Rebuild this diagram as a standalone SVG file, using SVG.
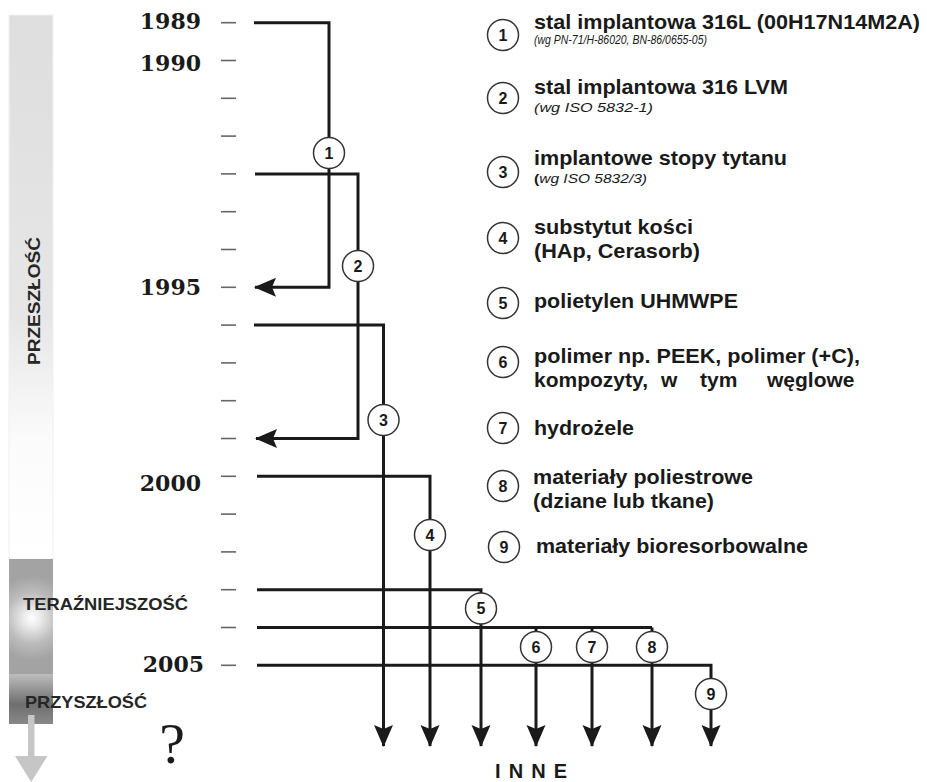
<svg xmlns="http://www.w3.org/2000/svg" width="927" height="782" viewBox="0 0 927 782">
<style>
.yr{font-family:"DejaVu Serif","Liberation Serif",serif;font-weight:bold;font-size:22px;fill:#1a1a1a;text-anchor:end}
.tick{stroke:#666;stroke-width:1.6}
.ln{fill:none;stroke:#1a1a1a;stroke-width:3}
.arr{marker-end:url(#ah)}
.c{fill:#fff;stroke:#333;stroke-width:1.5}
.n{font-family:"Liberation Sans",Arial,sans-serif;font-weight:bold;font-size:16px;fill:#1a1a1a;text-anchor:middle}
.lg{font-family:"Liberation Sans",Arial,sans-serif;font-weight:bold;font-size:21px;fill:#1a1a1a}
.sub{font-family:"Liberation Sans",Arial,sans-serif;font-style:italic;font-size:12.5px;fill:#1a1a1a}
.bar{font-family:"Liberation Sans",Arial,sans-serif;font-weight:bold;font-size:17px;fill:#262626}
</style>
<defs>
<marker id="ah" viewBox="0 0 22 20" refX="21" refY="10" markerWidth="22" markerHeight="20" markerUnits="userSpaceOnUse" orient="auto">
<path d="M0,0.5 L22,10 L0,19.5 L4,10 z" fill="#1a1a1a"/>
</marker>
<linearGradient id="gPast" x1="0" y1="0" x2="0" y2="1">
<stop offset="0" stop-color="#dedede"/>
<stop offset="0.55" stop-color="#e6e6e6"/>
<stop offset="0.78" stop-color="#fbfbfb"/>
<stop offset="1" stop-color="#ffffff"/>
</linearGradient>
<radialGradient id="gNow" gradientUnits="userSpaceOnUse" cx="32" cy="618" r="42">
<stop offset="0" stop-color="#ffffff"/>
<stop offset="0.2" stop-color="#ececec"/>
<stop offset="0.6" stop-color="#bcbcbc"/>
<stop offset="1" stop-color="#a3a3a3"/>
</radialGradient>
<linearGradient id="gFut" x1="0" y1="0" x2="0" y2="1">
<stop offset="0" stop-color="#bdbdbd"/>
<stop offset="0.6" stop-color="#6f6f6f"/>
<stop offset="1" stop-color="#888888"/>
</linearGradient>
</defs>
<rect width="927" height="782" fill="#fff"/>

<g id="timebar">
<rect x="9" y="15" width="44" height="544" fill="url(#gPast)" stroke="#f0f0f0" stroke-width="1"/>
<rect x="9" y="559" width="44" height="115" fill="url(#gNow)"/>
<rect x="9" y="674" width="44" height="50" fill="url(#gFut)"/>
<rect x="28" y="715" width="6.5" height="42" fill="#c6c6c6"/>
<polygon points="15,756 47.5,756 31.2,782" fill="#c6c6c6"/>
<text class="bar" transform="translate(39.5,365) rotate(-90)" textLength="128" lengthAdjust="spacingAndGlyphs">PRZESZŁOŚĆ</text>
<text class="bar" x="23" y="610" textLength="165" lengthAdjust="spacingAndGlyphs">TERAŹNIEJSZOŚĆ</text>
<text class="bar" x="25" y="708" textLength="122" lengthAdjust="spacingAndGlyphs">PRZYSZŁOŚĆ</text>
<text x="172" y="763" font-family="Liberation Serif,serif" font-size="58" fill="#1a1a1a" text-anchor="middle">?</text>
</g>

<g id="years">
<text class="yr" x="201" y="28.5">1989</text>
<text class="yr" x="201" y="71">1990</text>
<text class="yr" x="201" y="295">1995</text>
<text class="yr" x="201" y="491">2000</text>
<text class="yr" x="204" y="672">2005</text>
<g class="tick">
<line x1="221" y1="22.7" x2="236" y2="22.7"/>
<line x1="221" y1="60.5" x2="236" y2="60.5"/>
<line x1="221" y1="98.3" x2="236" y2="98.3"/>
<line x1="221" y1="136.1" x2="236" y2="136.1"/>
<line x1="221" y1="173.9" x2="236" y2="173.9"/>
<line x1="221" y1="211.7" x2="236" y2="211.7"/>
<line x1="221" y1="249.5" x2="236" y2="249.5"/>
<line x1="221" y1="287.3" x2="236" y2="287.3"/>
<line x1="221" y1="325.1" x2="236" y2="325.1"/>
<line x1="221" y1="362.9" x2="236" y2="362.9"/>
<line x1="221" y1="400.7" x2="236" y2="400.7"/>
<line x1="221" y1="438.5" x2="236" y2="438.5"/>
<line x1="221" y1="476.3" x2="236" y2="476.3"/>
<line x1="221" y1="514.1" x2="236" y2="514.1"/>
<line x1="221" y1="551.9" x2="236" y2="551.9"/>
<line x1="221" y1="589.7" x2="236" y2="589.7"/>
<line x1="221" y1="627.5" x2="236" y2="627.5"/>
<line x1="221" y1="665.3" x2="236" y2="665.3"/>
</g>
</g>

<g id="connectors">
<path class="ln arr" d="M254,22.7 H329 V287.3 H255"/>
<path class="ln arr" d="M255,173.9 H358 V438.5 H256"/>
<path class="ln arr" d="M254,325.1 H383.5 V746"/>
<path class="ln arr" d="M257,476.3 H430 V746"/>
<path class="ln arr" d="M257,589.7 H481 V746"/>
<path class="ln" d="M257,627.5 H652"/>
<path class="ln arr" d="M536,627.5 V746"/>
<path class="ln arr" d="M592,627.5 V746"/>
<path class="ln arr" d="M652,627.5 V746"/>
<path class="ln arr" d="M257,665.3 H711 V746"/>
</g>

<g id="m1"><circle class="c" cx="329" cy="153" r="15.5"/><text class="n" x="329" y="158.7">1</text></g>
<g id="m2"><circle class="c" cx="358" cy="266" r="15.5"/><text class="n" x="358" y="271.7">2</text></g>
<g id="m3"><circle class="c" cx="383.5" cy="420" r="15.5"/><text class="n" x="383.5" y="425.7">3</text></g>
<g id="m4"><circle class="c" cx="430" cy="535" r="15.5"/><text class="n" x="430" y="540.7">4</text></g>
<g id="m5"><circle class="c" cx="481" cy="608.5" r="15.5"/><text class="n" x="481" y="614.2">5</text></g>
<g id="m6"><circle class="c" cx="536" cy="647" r="15.5"/><text class="n" x="536" y="652.7">6</text></g>
<g id="m7"><circle class="c" cx="592" cy="647" r="15.5"/><text class="n" x="592" y="652.7">7</text></g>
<g id="m8"><circle class="c" cx="652" cy="647" r="15.5"/><text class="n" x="652" y="652.7">8</text></g>
<g id="m9"><circle class="c" cx="711" cy="694" r="15.5"/><text class="n" x="711" y="699.7">9</text></g>

<g id="inne"><text x="531" y="778" font-family="Liberation Sans,Arial,sans-serif" font-weight="bold" font-size="20" fill="#1a1a1a" text-anchor="middle" textLength="72" lengthAdjust="spacing">INNE</text></g>

<g id="legend1"><circle class="c" cx="503" cy="35" r="15.5"/><text class="n" x="503" y="40.7">1</text>
<text class="lg" x="534" y="28.5" textLength="386" lengthAdjust="spacingAndGlyphs">stal implantowa 316L (00H17N14M2A)</text>
<text class="sub" x="534" y="44" font-size="12" textLength="173" lengthAdjust="spacingAndGlyphs">(wg PN-71/H-86020, BN-86/0655-05)</text></g>

<g id="legend2"><circle class="c" cx="503" cy="98" r="15.5"/><text class="n" x="503" y="103.7">2</text>
<text class="lg" x="534" y="94" textLength="254" lengthAdjust="spacingAndGlyphs">stal implantowa 316 LVM</text>
<text class="sub" x="534" y="111.5" textLength="119" lengthAdjust="spacingAndGlyphs">(wg ISO 5832-1)</text></g>

<g id="legend3"><circle class="c" cx="503" cy="172" r="15.5"/><text class="n" x="503" y="177.7">3</text>
<text class="lg" x="534" y="165" textLength="253" lengthAdjust="spacingAndGlyphs">implantowe stopy tytanu</text>
<text class="sub" x="534" y="183" textLength="113" lengthAdjust="spacingAndGlyphs"><tspan font-style="normal" font-weight="bold">(</tspan>wg ISO 5832/3)</text></g>

<g id="legend4"><circle class="c" cx="503" cy="238" r="15.5"/><text class="n" x="503" y="243.7">4</text>
<text class="lg" x="534" y="234" textLength="159" lengthAdjust="spacingAndGlyphs">substytut kości</text>
<text class="lg" x="534" y="258" textLength="166" lengthAdjust="spacingAndGlyphs">(HAp, Cerasorb)</text></g>

<g id="legend5"><circle class="c" cx="503" cy="303" r="15.5"/><text class="n" x="503" y="308.7">5</text>
<text class="lg" x="534" y="308" textLength="204" lengthAdjust="spacingAndGlyphs">polietylen UHMWPE</text></g>

<g id="legend6"><circle class="c" cx="503" cy="362" r="15.5"/><text class="n" x="503" y="367.7">6</text>
<text class="lg" x="534" y="363" textLength="326" lengthAdjust="spacingAndGlyphs">polimer np. PEEK, polimer (+C),</text>
<text class="lg" y="387"><tspan x="534">kompozyty,</tspan><tspan x="661">w</tspan><tspan x="700">tym</tspan><tspan x="767">węglowe</tspan></text></g>

<g id="legend7"><circle class="c" cx="503" cy="428" r="15.5"/><text class="n" x="503" y="433.7">7</text>
<text class="lg" x="534" y="435" textLength="100" lengthAdjust="spacingAndGlyphs">hydrożele</text></g>

<g id="legend8"><circle class="c" cx="503" cy="486" r="15.5"/><text class="n" x="503" y="491.7">8</text>
<text class="lg" x="533" y="484" textLength="220" lengthAdjust="spacingAndGlyphs">materiały poliestrowe</text>
<text class="lg" x="533" y="508" textLength="181" lengthAdjust="spacingAndGlyphs">(dziane lub tkane)</text></g>

<g id="legend9"><circle class="c" cx="504" cy="547" r="15.5"/><text class="n" x="504" y="552.7">9</text>
<text class="lg" x="536" y="553" textLength="272" lengthAdjust="spacingAndGlyphs">materiały bioresorbowalne</text></g>
</svg>
